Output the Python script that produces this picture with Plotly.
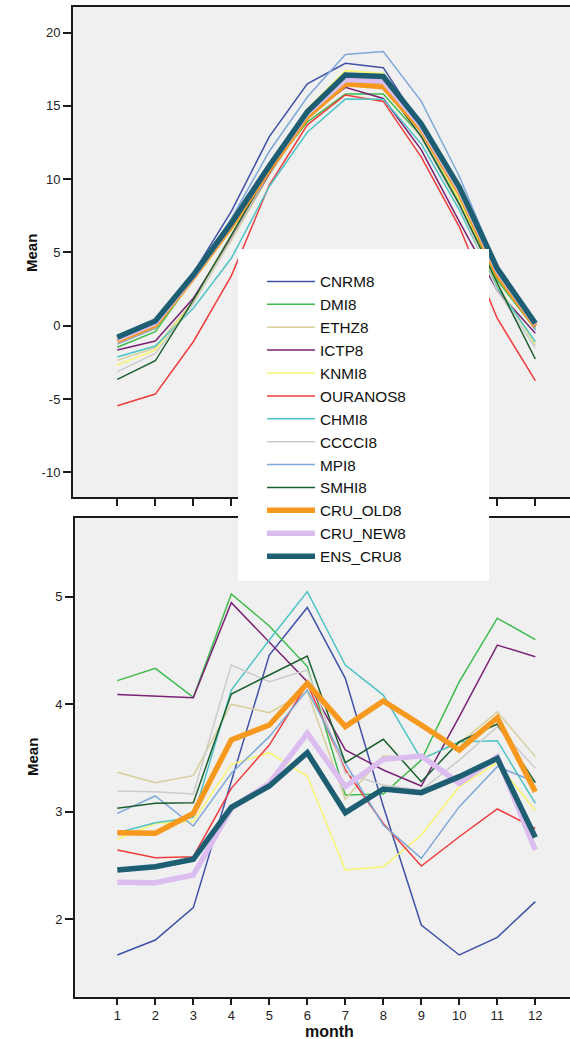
import plotly.graph_objects as go

# ---------------- data ----------------
months = [1, 2, 3, 4, 5, 6, 7, 8, 9, 10, 11, 12]
series_names = ["CNRM8", "DMI8", "ETHZ8", "ICTP8", "KNMI8", "OURANOS8", "CHMI8",
                "CCCCI8", "MPI8", "SMHI8", "CRU_OLD8", "CRU_NEW8", "ENS_CRU8"]

# upper panel (temperature means)
t_CNRM8 = [-1.0, 0.1, 3.6, 7.8, 12.9, 16.5, 17.9, 17.6, 13.6, 9.1, 3.6, -0.1]
t_DMI8 = [-1.47, -0.41, 3.2, 6.6, 10.6, 13.9, 15.8, 15.8, 12.9, 8.5, 3.1, -0.25]
t_ETHZ8 = [-2.36, -1.5, 1.7, 5.8, 10.3, 14.1, 16.9, 16.6, 12.9, 8.4, 2.8, -1.3]
t_ICTP8 = [-1.66, -1.04, 1.87, 6.0, 10.4, 14.3, 16.26, 15.5, 12.0, 7.1, 2.4, -0.52]
t_KNMI8 = [-2.68, -1.66, 1.6, 6.2, 10.8, 14.8, 17.4, 17.2, 13.3, 8.6, 2.7, -1.2]
t_OURANOS8 = [-5.46, -4.66, -1.09, 3.4, 9.6, 13.7, 15.74, 15.3, 11.5, 6.75, 0.5, -3.75]
t_CHMI8 = [-2.13, -1.38, 1.19, 4.6, 9.5, 13.2, 15.46, 15.44, 12.4, 7.9, 2.6, -1.09]
t_CCCCI8 = [-3.14, -1.88, 1.5, 5.9, 10.5, 14.4, 16.8, 16.5, 12.8, 8.2, 2.4, -1.5]
t_MPI8 = [-1.25, -0.18, 3.3, 7.3, 11.9, 15.6, 18.5, 18.7, 15.3, 10.2, 4.0, -0.3]
t_SMHI8 = [-3.66, -2.39, 1.75, 6.2, 10.6, 14.2, 16.7, 16.4, 12.9, 8.3, 2.9, -2.27]
t_CRU_OLD8 = [-1.02, 0.05, 3.3, 6.8, 10.7, 14.26, 16.5, 16.3, 13.4, 9.1, 3.5, -0.02]
t_CRU_NEW8 = [-0.9, 0.2, 3.4, 7.0, 10.9, 14.5, 16.8, 16.7, 13.6, 9.3, 3.8, 0.1]
t_ENS_CRU8 = [-0.79, 0.32, 3.46, 7.0, 10.9, 14.6, 17.1, 17.0, 13.75, 9.45, 3.9, 0.16]

# lower panel (precipitation means)
p_CNRM8 = [1.667, 1.806, 2.107, 3.28, 4.457, 4.90, 4.24, 3.05, 1.946, 1.667, 1.831, 2.163]
p_DMI8 = [4.219, 4.333, 4.064, 5.025, 4.727, 4.35, 3.155, 3.164, 3.48, 4.209, 4.80, 4.60]
p_ETHZ8 = [3.366, 3.27, 3.335, 4.0, 3.921, 4.12, 3.115, 3.521, 3.496, 3.636, 3.93, 3.512]
p_ICTP8 = [4.091, 4.076, 4.06, 4.944, 4.58, 4.209, 3.574, 3.388, 3.239, 3.884, 4.55, 4.442]
p_KNMI8 = [2.743, 2.89, 2.91, 3.44, 3.549, 3.332, 2.457, 2.488, 2.783, 3.233, 3.456, 3.009]
p_OURANOS8 = [2.643, 2.572, 2.581, 3.217, 3.62, 4.19, 3.39, 2.89, 2.495, 2.767, 3.025, 2.845]
p_CHMI8 = [2.805, 2.898, 2.947, 4.132, 4.597, 5.047, 4.364, 4.085, 3.487, 3.651, 3.66, 3.078]
p_CCCCI8 = [3.192, 3.186, 3.164, 4.364, 4.209, 4.318, 3.357, 3.248, 3.2, 3.48, 3.79, 3.403]
p_MPI8 = [2.984, 3.146, 2.867, 3.357, 3.698, 4.132, 3.45, 2.876, 2.566, 3.047, 3.419, 3.279]
p_SMHI8 = [3.031, 3.078, 3.084, 4.095, 4.271, 4.448, 3.456, 3.673, 3.279, 3.651, 3.815, 3.27]
p_CRU_OLD8 = [2.805, 2.8, 2.984, 3.667, 3.806, 4.194, 3.791, 4.03, 3.806, 3.574, 3.874, 3.186]
p_CRU_NEW8 = [2.343, 2.34, 2.411, 3.03, 3.264, 3.729, 3.233, 3.487, 3.518, 3.264, 3.512, 2.643]
p_ENS_CRU8 = [2.457, 2.488, 2.557, 3.04, 3.239, 3.549, 2.991, 3.211, 3.177, 3.326, 3.496, 2.761]

top_ticks = [-10, -5, 0, 5, 10, 15, 20]
top_tick_labels = ["-10", "-5", "0", "5", "10", "15", "20"]
bottom_ticks = [2, 3, 4, 5]
bottom_tick_labels = ["2", "3", "4", "5"]

temp = {"CNRM8": t_CNRM8, "DMI8": t_DMI8, "ETHZ8": t_ETHZ8, "ICTP8": t_ICTP8,
        "KNMI8": t_KNMI8, "OURANOS8": t_OURANOS8, "CHMI8": t_CHMI8, "CCCCI8": t_CCCCI8,
        "MPI8": t_MPI8, "SMHI8": t_SMHI8, "CRU_OLD8": t_CRU_OLD8,
        "CRU_NEW8": t_CRU_NEW8, "ENS_CRU8": t_ENS_CRU8}
prec = {"CNRM8": p_CNRM8, "DMI8": p_DMI8, "ETHZ8": p_ETHZ8, "ICTP8": p_ICTP8,
        "KNMI8": p_KNMI8, "OURANOS8": p_OURANOS8, "CHMI8": p_CHMI8, "CCCCI8": p_CCCCI8,
        "MPI8": p_MPI8, "SMHI8": p_SMHI8, "CRU_OLD8": p_CRU_OLD8,
        "CRU_NEW8": p_CRU_NEW8, "ENS_CRU8": p_ENS_CRU8}

# ---------------- styles ----------------
colors = {"CNRM8": "#3F51A8", "DMI8": "#3DBB4C", "ETHZ8": "#D6CF9A", "ICTP8": "#7A2275",
          "KNMI8": "#F9F56E", "OURANOS8": "#F03C3C", "CHMI8": "#4EC4C6", "CCCCI8": "#CCCCCC",
          "MPI8": "#7DA8D8", "SMHI8": "#1B5E30", "CRU_OLD8": "#F7991E",
          "CRU_NEW8": "#DCBDF0", "ENS_CRU8": "#1D5E73"}
widths = {n: 1.5 for n in series_names}
widths.update({"CRU_OLD8": 5.5, "CRU_NEW8": 5.5, "ENS_CRU8": 5.5})

FONT = "Liberation Sans, Arial, sans-serif"
W, H = 570, 1039

fig = go.Figure()
for n in series_names:
    fig.add_trace(go.Scatter(x=months, y=temp[n], mode="lines", name=n, legendgroup=n,
                             line=dict(color=colors[n], width=widths[n]),
                             xaxis="x", yaxis="y", showlegend=True))
for n in series_names:
    fig.add_trace(go.Scatter(x=months, y=prec[n], mode="lines", name=n, legendgroup=n,
                             line=dict(color=colors[n], width=widths[n]),
                             xaxis="x2", yaxis="y2", showlegend=False))

axis_common = dict(showgrid=False, zeroline=False, showline=True, linecolor="#1a1a1a",
                   linewidth=2, ticks="outside", tickcolor="#1a1a1a", tickwidth=1.5,
                   tickfont=dict(family=FONT, size=13, color="#222222"))

# pixel geometry -> paper domains
top_y0, top_y1 = 7, 497
bot_y0, bot_y1 = 518.3, 996.7

title_font = dict(family=FONT, size=15, color="#111111")

fig.update_layout(
    width=W, height=H,
    margin=dict(l=0, r=0, t=0, b=0),
    paper_bgcolor="white", plot_bgcolor="#F0F0F0",
    font=dict(family=FONT),
    xaxis=dict(axis_common, domain=[73 / W, 1], range=[-0.166, 12.913],
               tickvals=months, showticklabels=False, ticklen=7, mirror=True,
               anchor="y"),
    yaxis=dict(axis_common, domain=[1 - top_y1 / H, 1 - top_y0 / H],
               range=[-11.68, 21.74], tickvals=top_ticks, ticktext=top_tick_labels,
               ticklen=8, anchor="x"),
    xaxis2=dict(axis_common, domain=[75 / W, 1], range=[-0.113, 12.913],
                tickvals=months, ticklen=6, mirror=True, anchor="y2"),
    yaxis2=dict(axis_common, domain=[1 - bot_y1 / H, 1 - bot_y0 / H],
                range=[1.279, 5.729], tickvals=bottom_ticks, ticktext=bottom_tick_labels,
                ticklen=8, anchor="x2"),
    showlegend=True,
    legend=dict(x=262 / W, y=1 - 265 / H, xanchor="left", yanchor="top",
                bgcolor="rgba(0,0,0,0)", borderwidth=0, itemwidth=48,
                font=dict(family=FONT, size=15.3, color="#111111"),
                tracegroupgap=0),
    shapes=[dict(type="rect", xref="paper", yref="paper",
                 x0=238 / W, x1=489 / W, y0=1 - 580.7 / H, y1=1 - 249 / H,
                 fillcolor="white", line=dict(width=0), layer="above")],
    annotations=[
        dict(text="<b>Mean</b>", xref="paper", yref="paper", x=31 / W, y=1 - 253 / H,
             xanchor="center", yanchor="middle",
             textangle=-90, showarrow=False, font=title_font),
        dict(text="<b>Mean</b>", xref="paper", yref="paper", x=32 / W, y=1 - 757 / H,
             xanchor="center", yanchor="middle",
             textangle=-90, showarrow=False, font=title_font),
        dict(text="<b>month</b>", xref="paper", yref="paper", x=329 / W, y=1 - 1031 / H,
             xanchor="center", yanchor="middle",
             showarrow=False, font=dict(family=FONT, size=16, color="#111111")),
    ],
)

fig.write_html("out.html")
